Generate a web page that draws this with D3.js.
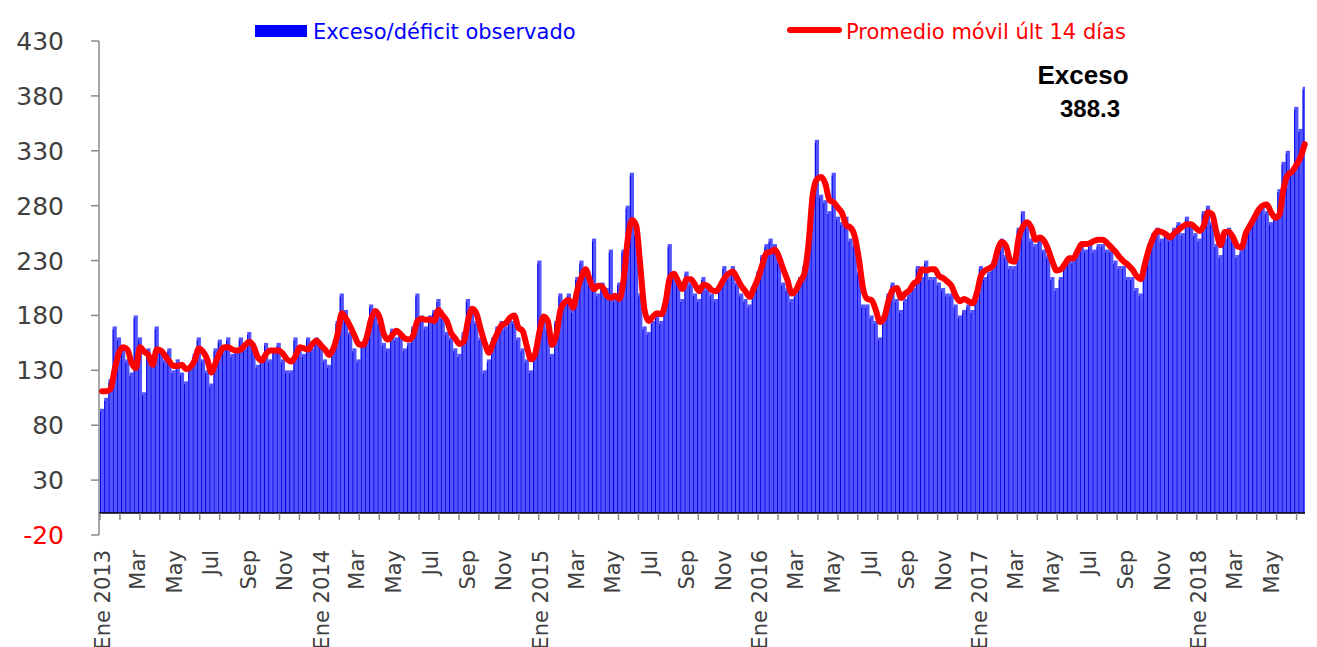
<!DOCTYPE html>
<html>
<head>
<meta charset="utf-8">
<script src="https://cdn.jsdelivr.net/npm/d3@7"></script>
<style>
  body { margin: 0; background: #fff; }
  svg { display: block; }
  text { font-family: "DejaVu Sans", Verdana, sans-serif; }
</style>
</head>
<body>
<svg width="1317" height="647"></svg>
<script>
// weekly series, first week starting 1 Jan 2013
var firstWeek = "2013-01-01";
var lastDay = "2018-06-30";

// Exceso/déficit observado (weekly reading of the bars)
var observed = [
  95, 105, 122, 170, 160, 150, 140, 128, 180, 160, 110, 150, 140, 170, 150, 140, 150, 130, 140, 128,
  120, 135, 145, 160, 140, 130, 118, 150, 158, 150, 160, 145, 150, 160, 150, 165, 155, 135, 140, 155,
  140, 150, 155, 140, 130, 130, 160, 150, 145, 160, 150, 160, 155, 140, 135, 150, 175, 200, 185, 165,
  150, 140, 155, 165, 190, 180, 175, 155, 150, 168, 160, 165, 150, 155, 170, 200, 180, 170, 180, 185,
  195, 180, 165, 160, 150, 145, 165, 195, 185, 175, 160, 130, 140, 160, 170, 175, 170, 180, 175, 160,
  150, 140, 130, 150, 230, 180, 170, 145, 175, 200, 190, 200, 185, 215, 230, 220, 215, 250, 200, 210,
  205, 240, 195, 210, 240, 280, 310, 255, 200, 170, 165, 175, 180, 175, 195, 245, 220, 210, 195, 220,
  210, 200, 195, 215, 205, 200, 195, 205, 225, 215, 225, 210, 200, 195, 190, 205, 220, 235, 245, 250,
  245, 230, 210, 205, 195, 200, 215, 225, 250, 290, 340, 290, 285, 275, 310, 270, 265, 270, 250, 245,
  220, 190, 190, 180, 175, 160, 175, 200, 210, 195, 185, 195, 200, 205, 225, 215, 230, 215, 215, 210,
  205, 200, 200, 190, 180, 185, 190, 185, 195, 225, 215, 220, 230, 240, 250, 235, 225, 225, 260, 275,
  262, 250, 245, 250, 240, 235, 215, 205, 215, 225, 230, 230, 240, 245, 240, 245, 240, 245, 245, 240,
  240, 230, 225, 225, 215, 215, 205, 200, 230, 245, 255, 260, 250, 255, 250, 260, 265, 255, 270, 265,
  255, 250, 275, 280, 265, 245, 235, 250, 260, 250, 235, 240, 255, 260, 270, 275, 280, 275, 265, 270,
  295, 320, 330, 310, 370, 350, 388.3
];

// Promedio móvil últ 14 días (weekly reading of the red line)
var movingAvg = [
  111, 111, 113, 131, 146, 151, 149, 137, 132, 151, 147, 144, 135, 149, 148, 143, 138, 134, 134, 135,
  131, 133, 139, 150, 147, 140, 128, 137, 146, 151, 151, 149, 148, 149, 153, 156, 152, 142, 139, 145,
  148, 148, 148, 145, 140, 138, 143, 151, 150, 149, 154, 157, 153, 149, 144, 150, 163, 182, 177, 170,
  162, 154, 153, 161, 177, 184, 178, 163, 158, 162, 166, 163, 159, 158, 162, 175, 177, 176, 176, 175,
  185, 180, 175, 164, 159, 154, 156, 175, 186, 182, 168, 155, 146, 155, 164, 171, 173, 178, 180, 169,
  166, 152, 140, 145, 165, 179, 175, 153, 162, 185, 192, 194, 187, 203, 215, 222, 212, 204, 207, 206,
  198, 196, 198, 195, 212, 249, 267, 262, 225, 185, 175, 179, 182, 181, 192, 214, 218, 211, 204, 213,
  213, 208, 202, 208, 207, 203, 202, 207, 214, 218, 220, 214, 207, 202, 197, 205, 214, 226, 237, 238,
  240, 233, 222, 212, 200, 203, 211, 218, 245, 290, 304, 306, 300, 285, 283, 278, 273, 262, 260, 252,
  231, 204, 195, 194, 185, 174, 178, 193, 203, 205, 196, 200, 203, 209, 212, 222, 221, 222, 222, 216,
  214, 211, 207, 198, 193, 195, 193, 191, 200, 216, 221, 223, 226, 240, 247, 243, 230, 229, 251, 261,
  265, 260, 249, 251, 248, 240, 229, 221, 222, 227, 232, 232, 239, 245, 245, 246, 248, 249, 249, 246,
  242, 238, 233, 229, 226, 222, 216, 213, 227, 241, 251, 257, 256, 254, 251, 255, 258, 261, 263, 263,
  260, 257, 262, 274, 272, 256, 244, 256, 256, 251, 243, 242, 255, 262, 269, 276, 280, 281, 274, 269,
  272, 296, 308, 311, 317, 324, 336
];

var yTicks = [-20, 30, 80, 130, 180, 230, 280, 330, 380, 430];
var monthNames = ["Ene", "Feb", "Mar", "Abr", "May", "Jun", "Jul", "Ago", "Sep", "Oct", "Nov", "Dic"];
var legendLabels = ["Exceso/déficit observado", "Promedio móvil últ 14 días"];
var lastLabel = "Exceso";

function main() {
    var svg = d3.select("svg");
    var parse = d3.timeParse("%Y-%m-%d");
    var start = parse(firstWeek),
        end = parse(lastDay);

    var weeks = observed.map(function (v, i) {
        return { date: d3.timeDay.offset(start, i * 7), value: v, avg: movingAvg[i] };
    });

    var x = d3.scaleTime().domain([start, end]).range([100, 1305]);
    var y = d3.scaleLinear().domain([-20, 430]).range([535, 41]);

    // bars
    var bars = svg.append("g");
    bars.selectAll("rect")
        .data(weeks)
        .enter().append("rect")
        .attr("x", function (d) { return x(d.date); })
        .attr("width", function (d) {
            var e = d3.timeDay.offset(d.date, 7);
            if (e > end) e = end;
            return Math.max(0, x(e) - x(d.date));
        })
        .attr("y", function (d) { return y(d.value); })
        .attr("height", function (d) { return y(0) - y(d.value); })
        .attr("fill", "#5454ff");
    // darker edge on every bar, like the packed daily bars
    bars.selectAll("line")
        .data(weeks)
        .enter().append("line")
        .attr("x1", function (d) { return x(d.date) + 0.5; })
        .attr("x2", function (d) { return x(d.date) + 0.5; })
        .attr("y1", y(0))
        .attr("y2", function (d) { return y(d.value) + 3; })
        .attr("stroke", "#0000e6")
        .attr("stroke-width", 1);

    // y axis
    svg.append("line")
        .attr("x1", 99).attr("x2", 99)
        .attr("y1", y(430)).attr("y2", y(-20))
        .attr("stroke", "#8a8a8a").attr("stroke-width", 1.5);
    var yt = svg.append("g").selectAll("g")
        .data(yTicks)
        .enter().append("g");
    yt.append("line")
        .attr("x1", 91).attr("x2", 99)
        .attr("y1", function (d) { return y(d); })
        .attr("y2", function (d) { return y(d); })
        .attr("stroke", "#8a8a8a").attr("stroke-width", 1.5);
    yt.append("text")
        .attr("x", 64)
        .attr("y", function (d) { return y(d); })
        .attr("dy", "0.36em")
        .attr("text-anchor", "end")
        .style("font-size", "25px")
        .style("fill", function (d) { return d < 0 ? "#ff0000" : "#404040"; })
        .text(function (d) { return d; });

    // x axis
    svg.append("line")
        .attr("x1", 99).attr("x2", 1305)
        .attr("y1", y(0)).attr("y2", y(0))
        .attr("stroke", "#000").attr("stroke-width", 1.5);
    var tickDates = d3.range(0, 61).map(function (i) {
        return new Date(start.getTime() + i * 33.2 * 864e5);
    }).filter(function (d) { return d <= end; });
    svg.append("g").selectAll("line")
        .data(tickDates)
        .enter().append("line")
        .attr("x1", function (d) { return x(d); })
        .attr("x2", function (d) { return x(d); })
        .attr("y1", y(0)).attr("y2", y(0) + 7)
        .attr("stroke", "#8a8a8a").attr("stroke-width", 1.5);

    var labelDates = d3.timeMonth.every(2).range(start, end);
    svg.append("g").selectAll("text")
        .data(labelDates)
        .enter().append("text")
        .attr("transform", function (d) {
            return "translate(" + (x(d) + 2) + ",550) rotate(-90)";
        })
        .attr("dy", "0.36em")
        .attr("text-anchor", "end")
        .style("font-size", "21px")
        .style("fill", "#404040")
        .text(function (d) {
            var m = monthNames[d.getMonth()];
            return d.getMonth() === 0 ? m + " " + d.getFullYear() : m;
        });

    // moving average
    var line = d3.line()
        .x(function (d) { return x(d3.timeHour.offset(d.date, 84)); })
        .y(function (d) { return y(d.avg); })
        .curve(d3.curveMonotoneX);
    svg.append("path")
        .datum(weeks)
        .attr("d", line)
        .attr("fill", "none")
        .attr("stroke", "#ff0000")
        .attr("stroke-width", 6)
        .attr("stroke-linejoin", "round")
        .attr("stroke-linecap", "round");

    // legend
    svg.append("rect")
        .attr("x", 255).attr("y", 25)
        .attr("width", 52).attr("height", 12)
        .attr("fill", "#0000ff");
    svg.append("text")
        .attr("x", 313).attr("y", 31)
        .attr("dy", "0.36em")
        .style("font-size", "21px")
        .style("fill", "#0000ff")
        .text(legendLabels[0]);
    svg.append("line")
        .attr("x1", 790).attr("x2", 839)
        .attr("y1", 30).attr("y2", 30)
        .attr("stroke", "#ff0000").attr("stroke-width", 6)
        .attr("stroke-linecap", "round");
    svg.append("text")
        .attr("x", 846).attr("y", 31)
        .attr("dy", "0.36em")
        .style("font-size", "21px")
        .style("fill", "#ff0000")
        .text(legendLabels[1]);

    // last value note
    svg.append("text")
        .attr("x", 1083).attr("y", 84)
        .attr("text-anchor", "middle")
        .style("font-family", "'Liberation Sans', Arial, sans-serif")
        .style("font-weight", "bold")
        .style("font-size", "26px")
        .text(lastLabel);
    svg.append("text")
        .attr("x", 1090).attr("y", 117)
        .attr("text-anchor", "middle")
        .style("font-family", "'Liberation Sans', Arial, sans-serif")
        .style("font-weight", "bold")
        .style("font-size", "24px")
        .text(d3.format(".1f")(observed[observed.length - 1]));
}

main();
</script>
</body>
</html>
